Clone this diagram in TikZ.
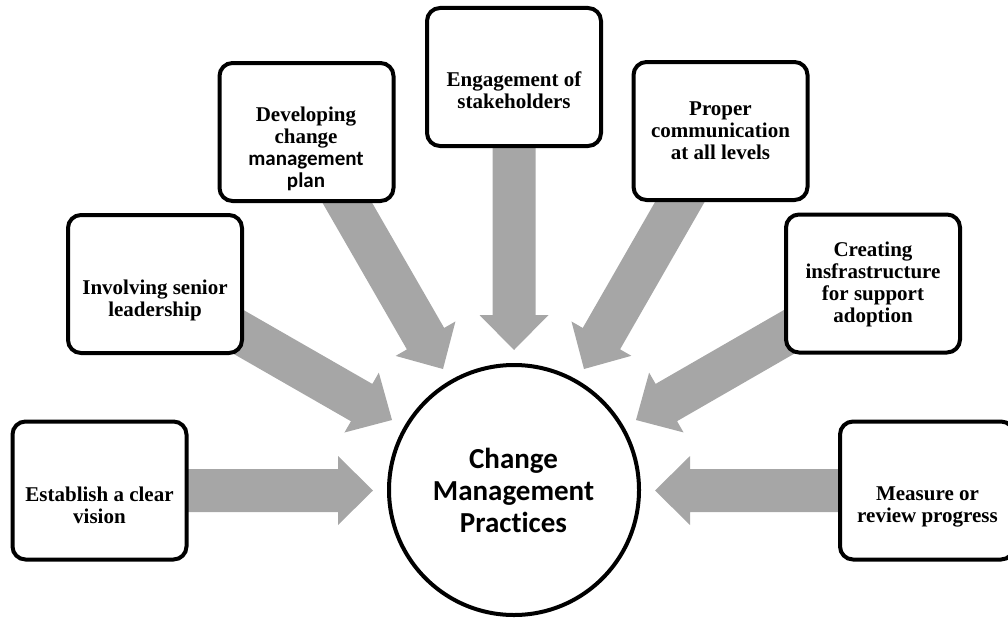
\documentclass[tikz,border=0pt]{standalone}
\usepackage{fontspec}
\setmainfont{Liberation Serif}
\newfontfamily\calibri[Ligatures=NoCommon]{Carlito}
\usetikzlibrary{calc}
\pgfdeclarelayer{arrows}
\pgfsetlayers{arrows,main}
\definecolor{arrowgray}{RGB}{166,166,166}
\tikzset{
  stepbox/.style={draw=black, line width=4pt, rounded corners=13pt, fill=white,
    minimum width=174pt, minimum height=138pt, inner sep=0pt},
  boxtext/.style={font=\bfseries\fontsize{21}{22}\selectfont, align=center, inner sep=0pt},
  hub/.style={circle, draw=black, line width=4pt, fill=white, minimum size=250pt, inner sep=0pt},
  hubtext/.style={font=\calibri\bfseries\fontsize{29}{32}\selectfont, align=center, inner sep=0pt},
  flowfill/.style={fill=arrowgray}
}
% Block arrow from #1 to the tip #2; #3 names the point where the head begins
\newcommand{\drawflow}[3]{%
  \coordinate (#3) at ($(#2)!35pt!(#1)$);
  \fill[flowfill]
    ($(#1)!21.5pt!90:(#2)$) -- ($(#3)!21.5pt!90:(#2)$) -- ($(#3)!34.5pt!90:(#2)$)
    -- (#2)
    -- ($(#3)!34.5pt!-90:(#2)$) -- ($(#3)!21.5pt!-90:(#2)$) -- ($(#1)!21.5pt!-90:(#2)$)
    -- cycle;
}
\begin{document}
\begin{tikzpicture}[x=1pt,y=-1pt]
\useasboundingbox (0,0) rectangle (1008,618);
\clip (0,0) rectangle (1008,618);

% central circle
\node[hub] (hub) at (514,490) {};
\node[hubtext] (hubt) at (513.5,490) {Change\\Management\\Practices};

% surrounding boxes
\node[stepbox] (b1) at (99.5,490.5) {};
\node[stepbox] (b2) at (155,284) {};
\node[stepbox] (b3) at (306.5,132) {};
\node[stepbox] (b4) at (514,77) {};
\node[stepbox] (b5) at (720.5,131) {};
\node[stepbox] (b6) at (873,283.5) {};
\node[stepbox] (b7) at (927,490.5) {};

\node[boxtext] (t1) at (99.5,505) {Establish a clear\\vision};
\node[boxtext] (t2) at (155,300.5) {Involving senior\\leadership};
\node[boxtext] (t3) at (306,149) {Developing\\change\\{\calibri\bfseries management}\\{\calibri\bfseries plan}};
\node[boxtext] (t4) at (514,90) {Engagement of\\stakeholders};
\node[boxtext] (t5) at (720.5,131) {Proper\\communication\\at all levels};
\node[boxtext] (t6) at (873,284) {Creating\\insfrastructure\\for support\\adoption};
\node[boxtext] (t7) at (927.5,506.5) {Measure or\\review progress};

% arrow tips around the circle
\coordinate (p1) at (373,490.5);
\coordinate (p2) at (392,420);
\coordinate (p3) at (443,369);
\coordinate (p4) at (514,350);
\coordinate (p5) at (584,369);
\coordinate (p6) at (636,420);
\coordinate (p7) at (655,490.5);

\begin{pgfonlayer}{arrows}
  \drawflow{b1.center}{p1}{h1}
  \drawflow{b2.center}{p2}{h2}
  \drawflow{b3.center}{p3}{h3}
  \drawflow{b4.center}{p4}{h4}
  \drawflow{b5.center}{p5}{h5}
  \drawflow{b6.center}{p6}{h6}
  \drawflow{b7.center}{p7}{h7}
\end{pgfonlayer}
\end{tikzpicture}
\end{document}
